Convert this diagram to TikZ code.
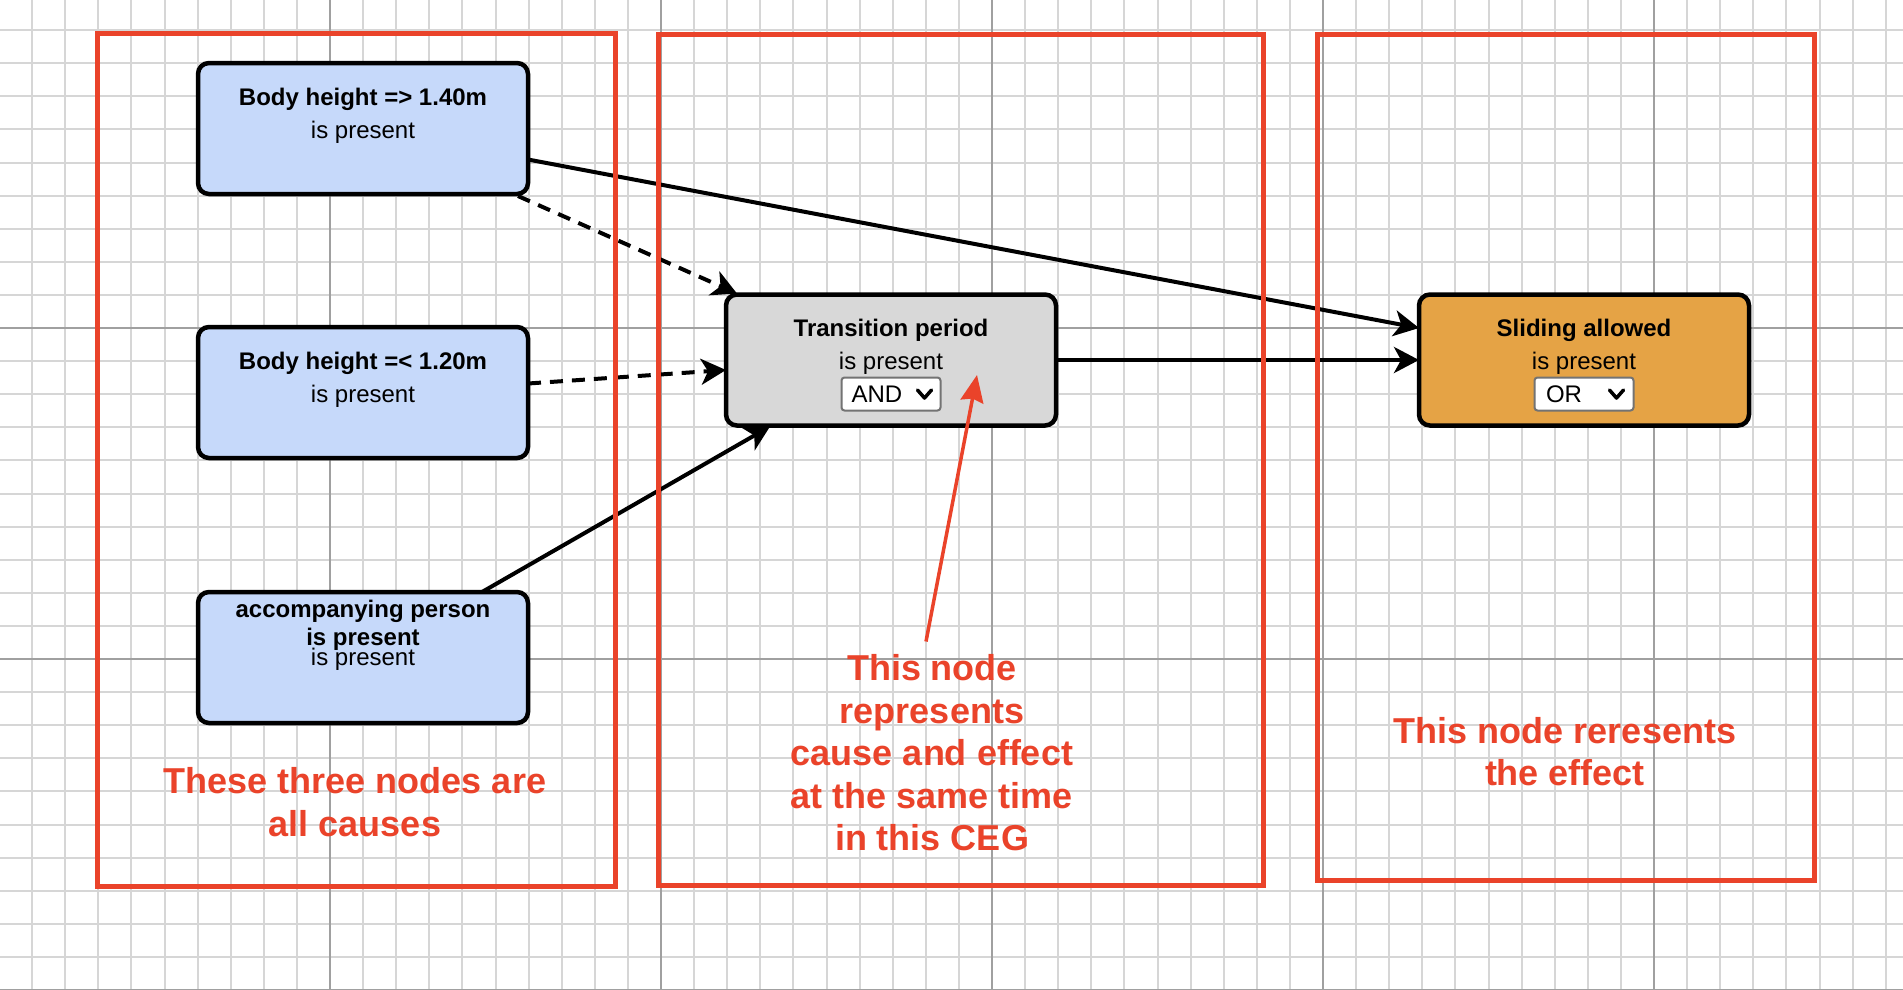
\documentclass[tikz,border=0pt]{standalone}
\usepackage{fontspec}
\setmainfont{Liberation Sans}
\usetikzlibrary{arrows.meta,calc}
\definecolor{cegred}{RGB}{234,67,42}
\definecolor{causeblue}{RGB}{198,217,250}
\definecolor{transgray}{RGB}{216,216,216}
\definecolor{effectorange}{RGB}{229,163,69}
\definecolor{gridminor}{RGB}{214,214,214}
\definecolor{gridmajor}{RGB}{160,160,160}

\begin{document}
\begin{tikzpicture}[x=1pt,y=-1pt,
  every node/.style={inner sep=0pt,outer sep=0pt,font=\fontsize{24}{28}\selectfont},
  cegbox/.style={draw=black,line width=4.5pt,rounded corners=11pt,minimum width=330pt,minimum height=131pt},
  titletxt/.style={anchor=base,font=\fontsize{24}{28}\selectfont\bfseries},
  subtxt/.style={anchor=base},
  dropbox/.style={draw=black!55,line width=2pt,fill=white,rounded corners=3pt,minimum width=99pt,minimum height=33pt},
  chevron/.style={line width=3.5pt,line cap=round,line join=round},
  link/.style={line width=4pt,-{Stealth[length=25pt,width=26pt,inset=7pt]}},
  dashlink/.style={link,dash pattern=on 13pt off 9pt},
  pointer/.style={draw=cegred,line width=3.5pt,-{Stealth[length=27pt,width=23pt,inset=3pt]}},
  frame/.style={draw=cegred,line width=5pt},
  note/.style={text=cegred,font=\fontsize{36}{42.5}\selectfont\bfseries,align=center,anchor=north}]
  \newcommand{\boxtext}[3]{
    \node[titletxt] (#1-t) at ($(#1.north)+(0,42)$) {#2};
    \node[subtxt] (#1-s) at ($(#1.north)+(0,75)$) {#3};
  }
  \useasboundingbox (0,0) rectangle (1903,989);
  \fill[white] (0,0) rectangle (1903,989);
  \foreach \gx in {0,...,57}
    \draw[gridminor,line width=2pt] ({\gx*33.1-1},0) -- ({\gx*33.1-1},989);
  \foreach \gy in {1,...,30}
    \draw[gridminor,line width=2pt] (0,{\gy*33.1-3}) -- (1903,{\gy*33.1-3});
  \foreach \gx in {10,20,...,50}
    \draw[gridmajor,line width=2pt] ({\gx*33.1-1},0) -- ({\gx*33.1-1},989);
  \foreach \gy in {10,20,30}
    \draw[gridmajor,line width=2pt] (0,{\gy*33.1-3}) -- (1903,{\gy*33.1-3});

  \node[cegbox,fill=causeblue] (bh1) at (363,128.5) {};
  \node[cegbox,fill=causeblue] (bh2) at (363,392.5) {};
  \node[cegbox,fill=causeblue] (bh3) at (363,657.5) {};
  \node[cegbox,fill=transgray] (trn) at (891,360) {};
  \node[cegbox,fill=effectorange] (sld) at (1584,360) {};

  \boxtext{bh1}{Body height => 1.40m}{is present}
  \boxtext{bh2}{Body height =< 1.20m}{is present}
  \boxtext{trn}{Transition period}{is present}
  \boxtext{sld}{Sliding allowed}{is present}
  \node[titletxt] (bh3-t) at ($(bh3.north)+(0,25)$) {accompanying person};
  \node[titletxt] (bh3-b) at ($(bh3.north)+(0,53)$) {is present};
  \node[subtxt] (bh3-s) at ($(bh3.north)+(0,73)$) {is present};

  \node[dropbox] (trn-dd) at ($(trn.north)+(0,99.5)$) {};
  \node[subtxt,anchor=base west] (trn-op) at ($(trn-dd.west)+(10,8.5)$) {AND};
  \draw[chevron] ($(trn-dd.east)+(-23,-4)$) -- ++(7,8) -- ++(7,-8);
  \node[dropbox] (sld-dd) at ($(sld.north)+(0,99.5)$) {};
  \node[subtxt,anchor=base west] (sld-op) at ($(sld-dd.west)+(11.5,8.5)$) {OR};
  \draw[chevron] ($(sld-dd.east)+(-24,-4)$) -- ++(7,8) -- ++(7,-8);

  \draw[link] ($(bh1.east)+(0,31)$) -- ($(sld.west)+(0,-32)$);
  \draw[link] (trn.east) -- (sld.west);
  \draw[dashlink] ($(bh1.south east)+(-10,2)$) -- ($(trn.north west)+(11,-1)$);
  \draw[dashlink] ($(bh2.east)+(0,-9)$) -- ($(trn.west)+(0,10)$);
  \draw[link] ($(bh3.north)+(119,0)$) -- ($(trn.south)+(-121,1)$);

  \draw[frame] (97,33) rectangle (615,886);
  \draw[frame] (658,34) rectangle (1263,885);
  \draw[frame] (1317,34) rectangle (1814,880);

  \node[note] (leftnote) at (355,767.5) {These three nodes are\\all causes};
  \node[note] (midnote) at (932,654.5) {This node\\represents\\cause and effect\\at the same time\\in this CEG};
  \node[note] (rightnote) at (1565,717) {This node reresents\\the effect};
  \coordinate (ptr) at ($(trn.center)+(86,15)$);
  \draw[pointer] ($(midnote.north)+(-6,-13)$) -- (ptr);
\end{tikzpicture}
\end{document}
